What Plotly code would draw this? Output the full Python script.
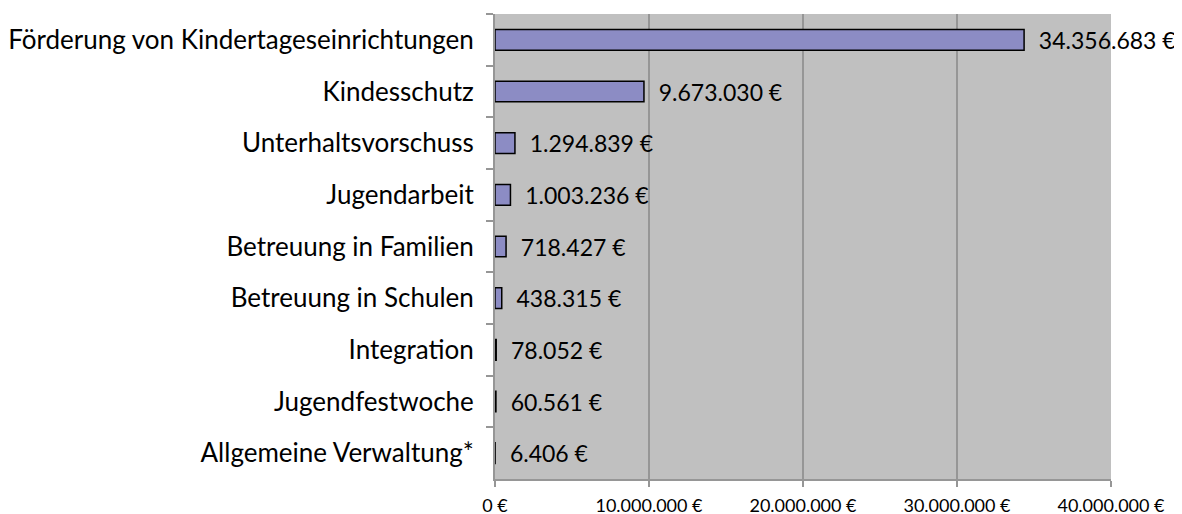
import plotly.graph_objects as go

categories = [
    "Förderung von Kindertageseinrichtungen",
    "Kindesschutz",
    "Unterhaltsvorschuss",
    "Jugendarbeit",
    "Betreuung in Familien",
    "Betreuung in Schulen",
    "Integration",
    "Jugendfestwoche",
    "Allgemeine Verwaltung*",
]
values = [34356683, 9673030, 1294839, 1003236, 718427, 438315, 78052, 60561, 6406]
x_ticks = [0, 10000000, 20000000, 30000000, 40000000]
x_tick_labels = [f"{v:,}".replace(",", ".") + " €" for v in x_ticks]

FONT = "Lato"

fig = go.Figure(
    go.Bar(
        x=values,
        y=categories,
        orientation="h",
        marker=dict(color="#8c8cc4", line=dict(color="#000000", width=1.5)),
        texttemplate="\u00a0\u00a0%{x:,d} €",
        textposition="outside",
        constraintext="none",
        textfont=dict(family=FONT, size=23, color="#000000"),
        cliponaxis=False,
        hoverinfo="skip",
    )
)

fig.update_layout(
    width=1182,
    height=514,
    margin=dict(l=487, r=79, t=6, b=43, autoexpand=False),
    paper_bgcolor="#ffffff",
    plot_bgcolor="#c0c0c0",
    separators=",.",
    bargap=0.6,
    showlegend=False,
    font=dict(family=FONT, color="#000000"),
)

fig.update_xaxes(
    range=[0, 40000000],
    tickvals=x_ticks,
    ticktext=x_tick_labels,
    tickfont=dict(family=FONT, size=18, color="#000000"),
    showgrid=True,
    gridcolor="#969696",
    gridwidth=2,
    zeroline=False,
    showline=True,
    linecolor="#969696",
    linewidth=2,
    ticks="outside",
    ticklen=6,
    tickcolor="#969696",
    tickwidth=2,
    ticklabelstandoff=3,
    automargin=False,
)

fig.update_yaxes(
    autorange="reversed",
    tickfont=dict(family=FONT, size=26, color="#000000"),
    showline=True,
    linecolor="#969696",
    linewidth=2,
    ticks="outside",
    tickson="boundaries",
    ticklen=7,
    tickcolor="#969696",
    tickwidth=2,
    showgrid=False,
    ticklabelstandoff=14,
    automargin=False,
)

fig.write_html("out.html")
